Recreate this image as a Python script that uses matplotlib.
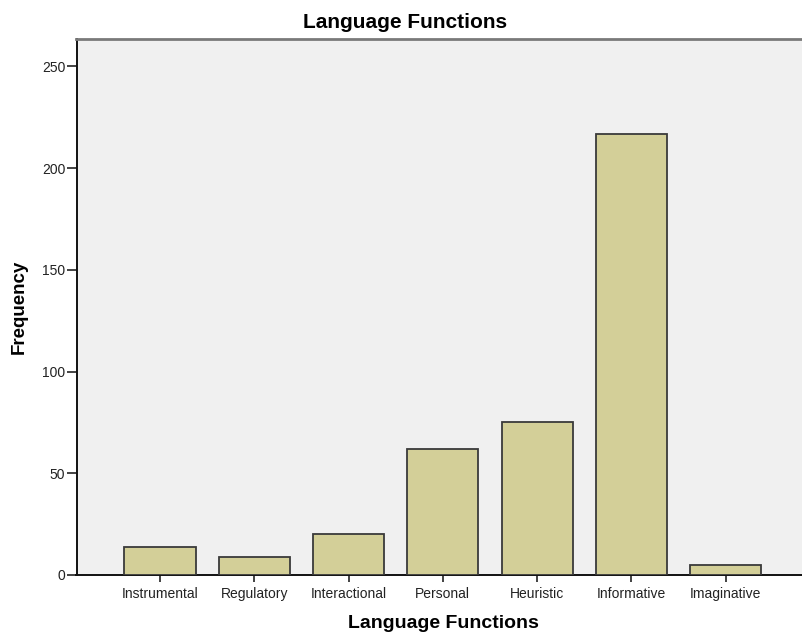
import matplotlib
matplotlib.use("Agg")
import matplotlib.pyplot as plt

functions = ["Instrumental", "Regulatory", "Interactional", "Personal",
             "Heuristic", "Informative", "Imaginative"]
frequency = [14, 9, 20, 62, 75, 217, 5]
y_ticks = [0, 50, 100, 150, 200, 250]

plt.rcParams['font.family'] = ['Liberation Sans', 'DejaVu Sans']

W, H = 803, 634
fig = plt.figure(figsize=(W / 100, H / 100), dpi=100)

# axes box in pixels: left 76.5, right 803 (cut off), top 39, bottom 575
left, right, top, bottom = 76.5, 803, 39, 575
ax = fig.add_axes([left / W, 1 - bottom / H, (right - left) / W, (bottom - top) / H])
ax.set_facecolor("#f0f0f0")

x = range(len(functions))
ax.bar(x, frequency, width=0.755, color="#d3cf98", edgecolor="#3a3a3a", linewidth=1.3, zorder=3)

ax.set_xlim(-0.886, 6.82)
ax.set_ylim(0, 263.5)
ax.set_xticks(list(x))
ax.set_xticklabels(functions, fontsize=10, va="baseline")
ax.set_yticks(y_ticks)
ax.set_yticklabels([str(v) for v in y_ticks], fontsize=10)
ax.tick_params(axis="y", length=7, width=1.2, pad=1, colors="#222222")
ax.tick_params(axis="x", length=5, width=1.2, pad=11.5, colors="#222222")

for s in ["left", "bottom"]:
    ax.spines[s].set_color("#111111")
    ax.spines[s].set_linewidth(1.4)
ax.spines["top"].set_color("#7a7a7a")
ax.spines["top"].set_linewidth(2)
ax.spines["right"].set_visible(False)

fig.text(405 / W, 1 - 22 / H, "Language Functions", ha="center", va="center",
         fontsize=15, fontweight="bold")
fig.text(443 / W, 1 - 623 / H, "Language Functions", ha="center", va="center",
         fontsize=14, fontweight="bold")
fig.text(19 / W, 1 - 307 / H, "Frequency", ha="center", va="center",
         rotation=90, fontsize=13.5, fontweight="bold")

fig.savefig("out.png", dpi=100)
